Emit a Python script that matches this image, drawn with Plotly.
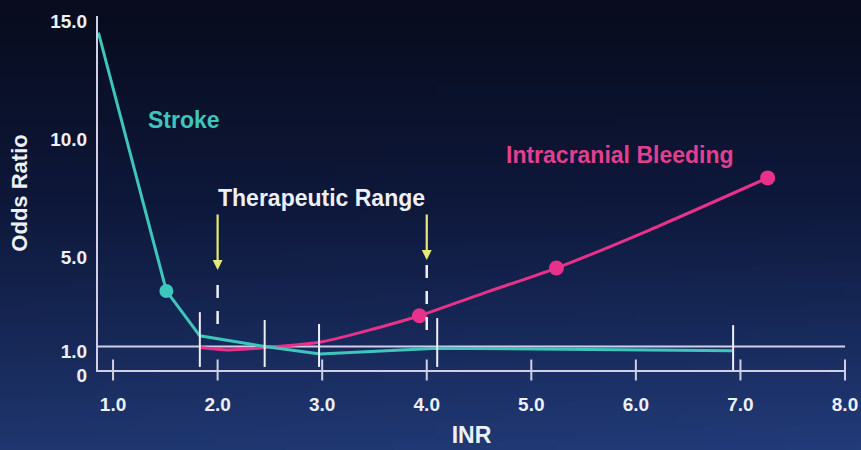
import base64
import struct
import zlib

import plotly.graph_objects as go

# ---------------- data ----------------
stroke_inr = [0.86, 1.51, 1.83, 2.45, 2.98, 4.10, 6.92]
stroke_or = [14.3, 3.35, 1.45, 1.00, 0.68, 0.92, 0.82]
stroke_marker_inr = [1.51]
stroke_marker_or = [3.35]

bleed_inr = [1.83, 2.10, 2.45, 3.00, 3.50, 3.93, 4.54, 5.24, 6.13, 7.26]
bleed_or = [0.95, 0.85, 0.95, 1.20, 1.75, 2.30, 3.25, 4.32, 5.93, 8.14]
bleed_marker_inr = [3.93, 5.24, 7.26]
bleed_marker_or = [2.30, 4.32, 8.14]

# INR interval marks (x, top in odds ratio)
interval_inr = [1.83, 2.45, 2.97, 4.10, 6.93]
interval_top = [2.45, 2.12, 1.95, 2.20, 1.90]
interval_bottom = [0.13, 0.13, 0.13, 0.13, 0.0]

therapeutic_inr = [2.0, 4.0]
arrow_head_or = [4.24, 4.66]
arrow_tail_or = [6.65, 6.65]
dash_top_or = [3.60, 4.45]
dash_bottom_or = [1.80, 1.70]

x_tick_vals = [1, 2, 3, 4, 5, 6, 7, 8]
x_tick_text = ["1.0", "2.0", "3.0", "4.0", "5.0", "6.0", "7.0", "8.0"]
y_tick_vals = [0, 1, 5, 10, 15]
y_tick_text = ["0", "1.0", "5.0", "10.0", "15.0"]

reference_or = 1.0
x_range = [0.856, 8.0]
y_range = [0.0, 15.0]

# ---------------- styling ----------------
W, H = 861, 450
ML, MR, MT, MB = 98, 16, 16, 80
PW, PH = W - ML - MR, H - MT - MB

TEAL = "#3ec6bd"
PINK = "#e8318a"
AXIS = "#cfd0e8"
WHITE = "#eef0f8"
YELLOW = "#e6e878"
FONT = "Liberation Sans, Arial, sans-serif"


def gradient_png(w, h):
    stops = [(0.0, (8, 12, 30)), (0.45, (14, 24, 58)), (1.0, (31, 54, 110))]

    def col(t):
        for (t0, c0), (t1, c1) in zip(stops[:-1], stops[1:]):
            if t <= t1:
                f = (t - t0) / (t1 - t0)
                return [c0[i] + (c1[i] - c0[i]) * f for i in range(3)]
        return list(stops[-1][1])

    rows = []
    for j in range(h):
        t = j / (h - 1)
        row = bytearray([0])
        for i in range(w):
            s = i / (w - 1)
            c = col(t)
            boost = 1.0 + 0.10 * s * t
            row += bytes(max(0, min(255, int(v * boost))) for v in c)
        rows.append(bytes(row))
    raw = b"".join(rows)

    def chunk(tag, data):
        return (struct.pack(">I", len(data)) + tag + data
                + struct.pack(">I", zlib.crc32(tag + data) & 0xFFFFFFFF))

    png = (b"\x89PNG\r\n\x1a\n"
           + chunk(b"IHDR", struct.pack(">IIBBBBB", w, h, 8, 2, 0, 0, 0))
           + chunk(b"IDAT", zlib.compress(raw))
           + chunk(b"IEND", b""))
    return "data:image/png;base64," + base64.b64encode(png).decode()


fig = go.Figure()

# curves
fig.add_trace(go.Scatter(x=bleed_inr, y=bleed_or, mode="lines",
                         line=dict(color=PINK, width=3, shape="spline", smoothing=0.7),
                         hoverinfo="skip"))
fig.add_trace(go.Scatter(x=stroke_inr, y=stroke_or, mode="lines",
                         line=dict(color=TEAL, width=3),
                         hoverinfo="skip"))
fig.add_trace(go.Scatter(x=stroke_marker_inr, y=stroke_marker_or, mode="markers",
                         marker=dict(color=TEAL, size=14), hoverinfo="skip"))
fig.add_trace(go.Scatter(x=bleed_marker_inr, y=bleed_marker_or, mode="markers",
                         marker=dict(color=PINK, size=15), hoverinfo="skip"))

# x tick marks crossing the axis
fig.add_trace(go.Scatter(x=x_tick_vals, y=[0] * len(x_tick_vals), mode="markers",
                         marker=dict(symbol="line-ns-open", size=15, color=AXIS,
                                     line=dict(color=AXIS, width=2)),
                         cliponaxis=False, hoverinfo="skip"))

shapes = []
# reference line at OR = 1
shapes.append(dict(type="line", xref="x", yref="y", x0=x_range[0], x1=x_range[1],
                   y0=reference_or, y1=reference_or,
                   line=dict(color=AXIS, width=2), layer="below"))
# interval marks
for xv, y0, y1 in zip(interval_inr, interval_bottom, interval_top):
    shapes.append(dict(type="line", xref="x", yref="y", x0=xv, x1=xv, y0=y0, y1=y1,
                       line=dict(color=WHITE, width=2), layer="above"))
# therapeutic dashed lines (drawn top -> bottom so the dash pattern starts at the top)
for xv, yt, yb in zip(therapeutic_inr, dash_top_or, dash_bottom_or):
    shapes.append(dict(type="line", xref="x", yref="y", x0=xv, x1=xv, y0=yt, y1=yb,
                       line=dict(color=WHITE, width=2.5, dash="13px,13px"), layer="above"))

annotations = []
for xv, yh, yt in zip(therapeutic_inr, arrow_head_or, arrow_tail_or):
    annotations.append(dict(x=xv, y=yh, ax=xv, ay=yt, xref="x", yref="y",
                            axref="x", ayref="y", text="", showarrow=True,
                            arrowhead=2, arrowsize=0.9, arrowwidth=2.2,
                            arrowcolor=YELLOW))

annotations.append(dict(x=1.68, y=10.6, xref="x", yref="y", text="<b>Stroke</b>",
                        showarrow=False, font=dict(family=FONT, size=23, color=TEAL)))
annotations.append(dict(x=2.99, y=7.3, xref="x", yref="y", text="<b>Therapeutic Range</b>",
                        showarrow=False, font=dict(family=FONT, size=23, color=WHITE)))
annotations.append(dict(x=5.85, y=9.1, xref="x", yref="y", text="<b>Intracranial Bleeding</b>",
                        showarrow=False, font=dict(family=FONT, size=23, color="#e2408f")))

fig.update_layout(
    width=W, height=H,
    margin=dict(l=ML, r=MR, t=MT, b=MB),
    paper_bgcolor="#101a3c",
    plot_bgcolor="rgba(0,0,0,0)",
    showlegend=False,
    shapes=shapes,
    annotations=annotations,
    images=[dict(source=gradient_png(86, 45), xref="paper", yref="paper",
                 x=-ML / PW, y=1 + MT / PH, sizex=W / PW, sizey=H / PH,
                 xanchor="left", yanchor="top", sizing="stretch", layer="below")],
    xaxis=dict(range=x_range, showgrid=False, zeroline=False, showline=True,
               automargin=False,
               linecolor=AXIS, linewidth=2, tickmode="array", tickvals=x_tick_vals,
               ticktext=x_tick_text, ticks="", ticklabelstandoff=16,
               tickfont=dict(family=FONT, size=19, color=WHITE, weight="bold"),
               title=dict(text="<b>INR</b>", standoff=13,
                          font=dict(family=FONT, size=23, color=WHITE))),
    yaxis=dict(range=y_range, showgrid=False, zeroline=False, showline=True,
               automargin=False,
               linecolor=AXIS, linewidth=2, tickmode="array", tickvals=y_tick_vals,
               ticktext=y_tick_text, ticks="", ticklabelstandoff=5,
               ticklabelshift=5,
               tickfont=dict(family=FONT, size=19, color=WHITE, weight="bold"),
               title=dict(text="<b>Odds Ratio</b>", standoff=17,
                          font=dict(family=FONT, size=22, color=WHITE))),
)

fig.write_html("out.html",
               config={"displayModeBar": False},
               post_script="document.body.style.margin='0';"
                           "document.body.style.background='#101a3c';")
